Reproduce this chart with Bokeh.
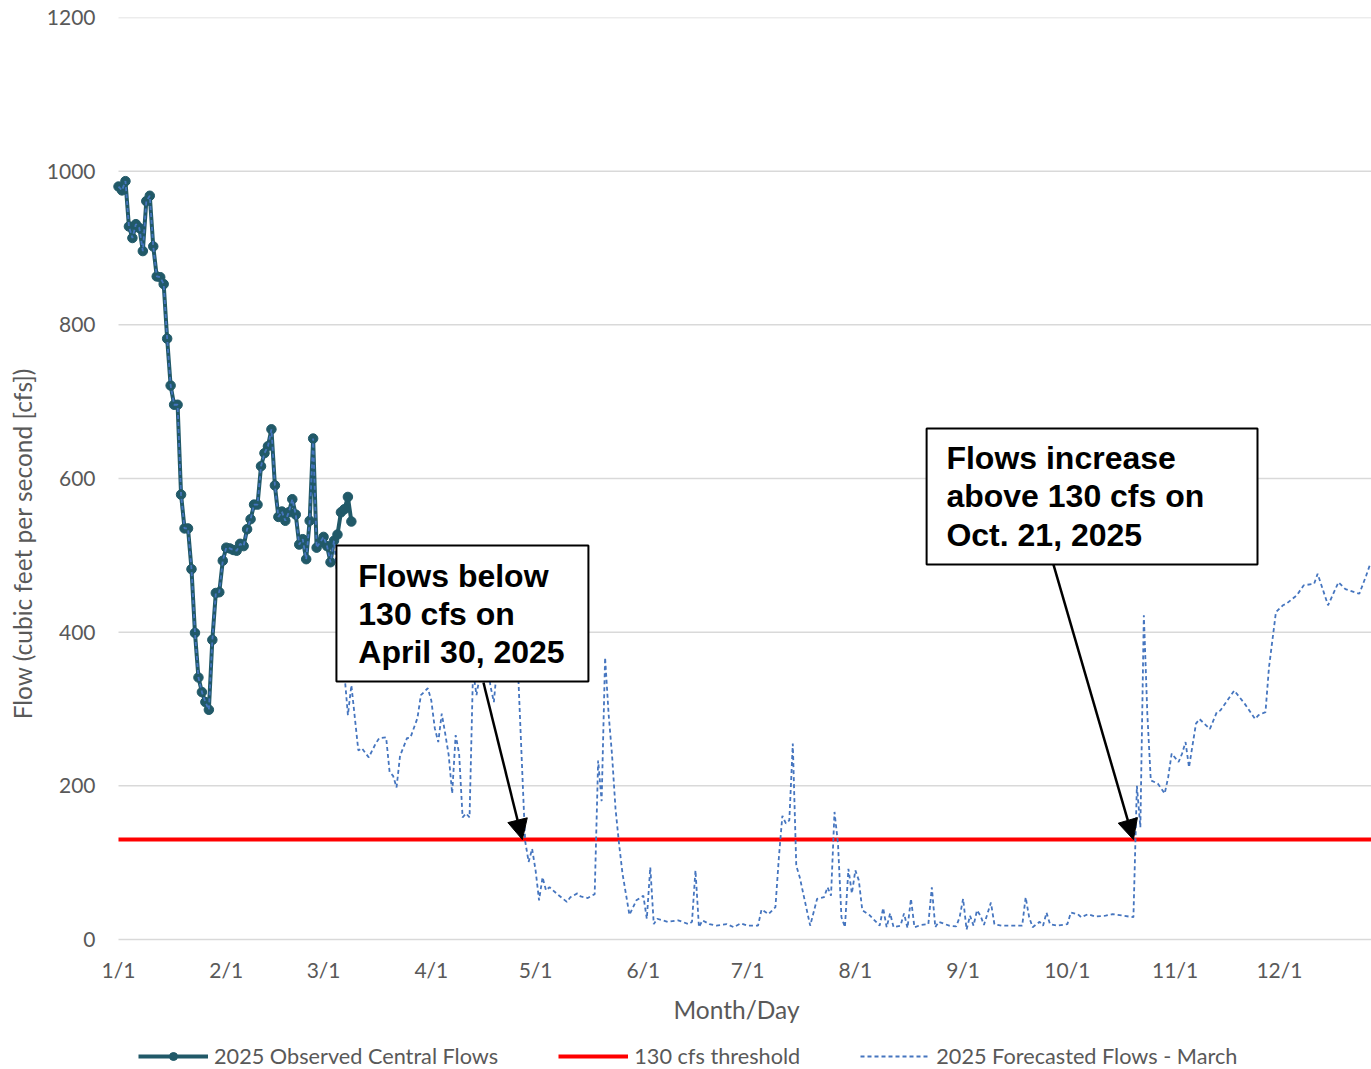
import pandas as pd
from bokeh.plotting import figure
from bokeh.models import (Range1d, FixedTicker, Legend, LegendItem, BoxAnnotation,
                          Label, Arrow, NormalHead)
from bokeh.embed import file_html
from bokeh.resources import INLINE

# ---- calendar (days counted from Jan 1, 2025) ----
year_start = pd.Timestamp("2025-01-01")
month_starts = pd.date_range("2025-01-01", "2025-12-01", freq="MS")
tick_days = [(d - year_start).days for d in month_starts]
tick_labels = [f"{d.month}/{d.day}" for d in month_starts]
flow_ticks = [0, 200, 400, 600, 800, 1000, 1200]

# ---- observed daily flows, Jan 1 - Mar 9 (cfs) ----
obs_flow = [980, 975, 987, 928, 913, 931, 926, 896, 961, 968,
            902, 863, 862, 853, 782, 721, 696, 696, 579, 535,
            535, 482, 399, 341, 322, 309, 299, 390, 451, 452,
            493, 510, 509, 507, 506, 515, 512, 534, 547, 566,
            566, 616, 633, 642, 664, 591, 550, 557, 545, 556,
            573, 553, 514, 521, 495, 545, 652, 510, 517, 524,
            512, 491, 519, 527, 556, 560, 576, 544]
obs_day = list(range(len(obs_flow)))

# ---- March forecast: follows observed record through day 62, then projected ----
fc_shared = 63
fc_day = [63, 64, 66, 67, 69, 70, 72, 74, 75, 77, 78, 79, 80, 81, 83, 84, 86, 87, 89, 90,
          91, 92, 93, 94, 95, 96, 97, 98, 99, 100, 101, 102, 103, 104, 105, 106, 107, 108, 109, 110,
          111, 112, 113, 114, 115, 117, 118, 119, 120, 121, 122, 123, 124, 126, 129, 130, 132, 133, 135, 137,
          138, 139, 140, 141, 142, 143, 144, 145, 147, 149, 151, 152, 153, 154, 155, 158, 161, 164, 165, 166,
          167, 168, 170, 172, 175, 177, 179, 181, 184, 185, 187, 189, 190, 191, 192, 193, 194, 195, 196, 199,
          201, 203, 204, 205, 206, 207, 208, 209, 210, 211, 212, 213, 214, 216, 219, 220, 221, 222, 223, 225,
          226, 227, 228, 229, 231, 233, 234, 235, 236, 239, 241, 242, 243, 244, 245, 246, 247, 248, 249, 251,
          252, 254, 257, 260, 261, 262, 263, 265, 266, 267, 268, 270, 273, 274, 276, 277, 279, 281, 284, 286,
          289, 292, 293, 294, 295, 296, 297, 299, 301, 302, 303, 305, 306, 307, 308, 310, 311, 314, 316, 317,
          321, 324, 327, 328, 330, 331, 333, 335, 336, 339, 341, 344, 345, 348, 351, 353, 357, 359, 360]
fc_flow = [470, 400, 292, 331, 246, 249, 237, 255, 262, 263, 218, 213, 198, 239, 262, 263, 288, 318, 327, 311,
           275, 257, 294, 268, 240, 190, 266, 242, 159, 164, 159, 350, 318, 345, 390, 370, 330, 309, 360, 420,
           440, 430, 410, 390, 345, 128, 101, 118, 90, 51, 81, 64, 68, 60, 49, 55, 60, 56, 54, 59,
           233, 180, 367, 294, 240, 170, 125, 86, 32, 51, 57, 27, 94, 20, 27, 23, 25, 20, 23, 90,
           16, 25, 20, 18, 20, 16, 21, 18, 18, 39, 33, 42, 107, 161, 151, 155, 255, 96, 81, 18,
           53, 55, 68, 57, 166, 125, 29, 16, 92, 60, 90, 77, 38, 32, 18, 41, 16, 34, 16, 18,
           34, 15, 53, 16, 19, 20, 68, 16, 23, 18, 17, 29, 53, 13, 31, 18, 38, 31, 19, 48,
           20, 18, 18, 18, 55, 29, 16, 23, 18, 35, 20, 18, 20, 35, 33, 29, 33, 30, 31, 33,
           31, 29, 200, 146, 422, 294, 207, 203, 190, 211, 242, 231, 242, 257, 224, 281, 287, 274, 296, 298,
           324, 307, 287, 292, 296, 354, 426, 435, 437, 448, 461, 463, 476, 435, 465, 456, 450, 474, 487]

threshold = 130

# ---- annotation text and the dates they point at ----
note_below = ["Flows below", "130 cfs on", "April 30, 2025"]
note_above = ["Flows increase", "above 130 cfs on", "Oct. 21, 2025"]
cross_below_day = 116.2
cross_above_day = 292.0

# ---- layout: the frame runs to the page bottom so the key can sit under the axis ----
W, H = 1371, 1069
frame_left, day0_px = 101, 118
top_px, zero_px = 17, 939
y_top = 1200
y_lo = -y_top * (H - zero_px) / (zero_px - top_px)
x_end = 360.5
x_lo = -x_end * (day0_px - frame_left) / (W - day0_px)
TEXT = "#595959"
FONT = "Lato"

p = figure(width=W, height=H, output_backend="svg", toolbar_location=None,
           x_range=Range1d(x_lo, x_end), y_range=Range1d(y_lo, y_top),
           min_border_left=frame_left, min_border_right=0, min_border_top=top_px,
           min_border_bottom=0)
p.outline_line_color = None
p.background_fill_color = "white"
p.border_fill_color = "white"

# horizontal gridlines, starting at Jan 1
p.xgrid.grid_line_color = None
p.ygrid.grid_line_color = None
p.segment(x0=[0] * len(flow_ticks), y0=flow_ticks, x1=[x_end] * len(flow_ticks), y1=flow_ticks,
          line_color="#d9d9d9", line_width=1.5, level="underlay")

p.xaxis.ticker = FixedTicker(ticks=tick_days)
p.xaxis.major_label_overrides = {d: lab for d, lab in zip(tick_days, tick_labels)}
p.xaxis.fixed_location = 0
p.yaxis.ticker = FixedTicker(ticks=flow_ticks)

for ax in (p.xaxis[0], p.yaxis[0]):
    ax.axis_line_color = None
    ax.major_tick_line_color = None
    ax.minor_tick_line_color = None
    ax.major_label_text_color = TEXT
    ax.major_label_text_font = FONT
    ax.major_label_text_font_size = "21px"
    ax.axis_label_text_color = TEXT
    ax.axis_label_text_font = FONT
    ax.axis_label_text_font_size = "24.5px"
    ax.axis_label_text_font_style = "normal"

p.xaxis.axis_label = "Month/Day"
p.xaxis.major_label_standoff = 11
p.xaxis.axis_label_standoff = 10
p.yaxis.axis_label = "Flow (cubic feet per second [cfs])"
p.yaxis.major_label_standoff = 0
p.yaxis.axis_label_standoff = 7

OBS = "#215968"
FC = "#4575bf"

obs_line = p.line(obs_day, obs_flow, line_color=OBS, line_width=4)
obs_pts = p.scatter(obs_day, obs_flow, size=9.5, fill_color=OBS, line_color=OBS)

thr_line = p.line([0, x_end], [threshold, threshold], line_color="#ff0000", line_width=4)

fc_x = obs_day[:fc_shared] + fc_day
fc_y = obs_flow[:fc_shared] + fc_flow
fc_line = p.line(fc_x, fc_y, line_color=FC, line_width=1.8, line_dash="4 3")

# ---- callout boxes ----
def callout(left, right, top, bottom, lines, text_x, first_y, step):
    p.add_layout(BoxAnnotation(left=left, right=right, top=top, bottom=bottom,
                               fill_color="white", fill_alpha=1.0,
                               line_color="black", line_width=2, line_alpha=1.0))
    for i, t in enumerate(lines):
        p.add_layout(Label(x=text_x, y=first_y - i * step, text=t,
                           text_font="Liberation Sans", text_font_style="bold",
                           text_font_size="32px", text_color="black",
                           text_baseline="middle", text_align="left"))

callout(62.7, 135.2, 512.8, 335.8, note_below, 69.0, 473.5, 49.5)
callout(232.5, 327.7, 665.1, 488.1, note_above, 238.2, 627.0, 50.0)

head = dict(size=20, fill_color="black", line_color="black")
p.add_layout(Arrow(end=NormalHead(**head), x_start=105.0, y_start=334.5,
                   x_end=cross_below_day, y_end=threshold, line_color="black", line_width=2.5))
p.add_layout(Arrow(end=NormalHead(**head), x_start=269.0, y_start=488.0,
                   x_end=cross_above_day, y_end=threshold, line_color="black", line_width=2.5))

# ---- legend row beneath the axis title ----
legend = Legend(items=[LegendItem(label="2025 Observed Central Flows", renderers=[obs_line, obs_pts]),
                       LegendItem(label="130 cfs threshold", renderers=[thr_line]),
                       LegendItem(label="2025 Forecasted Flows - March", renderers=[fc_line])],
                location=(138 - frame_left, 0), orientation="horizontal", spacing=60,
                glyph_width=70, glyph_height=20, label_height=20, label_standoff=6,
                padding=0, margin=0, border_line_color=None, background_fill_alpha=0,
                label_text_font=FONT, label_text_font_size="21.7px", label_text_color=TEXT)
p.add_layout(legend)

open("out.html", "w").write(file_html(p, INLINE))
